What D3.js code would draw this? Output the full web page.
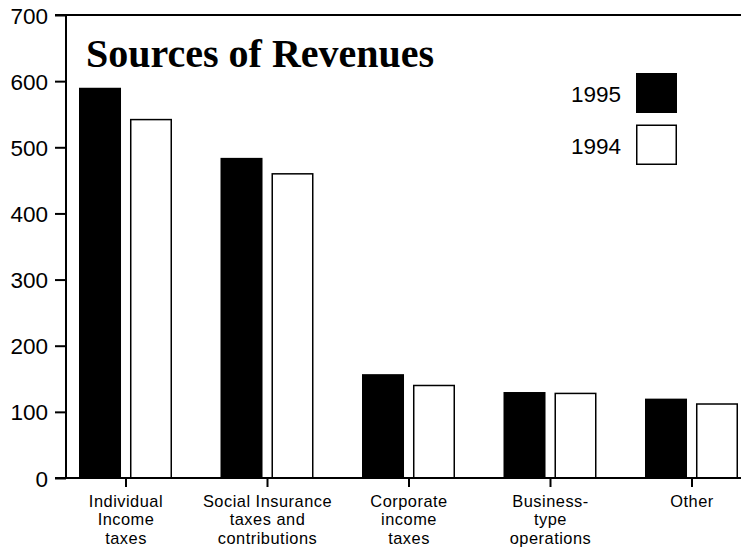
<!DOCTYPE html>
<html>
<head>
<meta charset="utf-8">
<script src="https://cdn.jsdelivr.net/npm/d3@7"></script>
<style>
  html, body { margin: 0; padding: 0; background: #fff; }
  svg { display: block; }
  .tick text { font-family: "Liberation Sans", Arial, sans-serif; }
</style>
</head>
<body>
<svg id="chart" width="741" height="548"></svg>
<script>
// Revenue sources (billions of dollars)
const categories = [
  ["Individual", "Income", "taxes"],
  ["Social Insurance", "taxes and", "contributions"],
  ["Corporate", "income", "taxes"],
  ["Business-", "type", "operations"],
  ["Other"]
];
const series = ["1995", "1994"];
const values1995 = [590, 484, 157, 130, 120];
const values1994 = [543, 461, 141, 129, 113];
const yTicks = [0, 100, 200, 300, 400, 500, 600, 700];
const title = "Sources of Revenues";

const svg = d3.select("#chart");
const W = 741;
const axisX = 66, plotTop = 15, plotBottom = 478;

const catIdx = d3.range(categories.length);
const x = d3.scaleBand().domain(catIdx).range([55.25, 762.75]).padding(0);
const xs = d3.scaleBand().domain(series).range([-47, 46]).paddingInner(0.176).paddingOuter(0);
const y = d3.scaleLinear().domain([0, 700]).range([plotBottom, plotTop]);

const rows = catIdx.map(i => ({ i, v: { "1995": values1995[i], "1994": values1994[i] } }));

// bars
const g = svg.append("g");
rows.forEach(r => {
  series.forEach(s => {
    const cx = x(r.i) + x.bandwidth() / 2;
    const isNew = s === "1995";
    g.append("rect")
      .attr("x", cx + xs(s) + (isNew ? 0 : 0.75))
      .attr("y", y(r.v[s]) + (isNew ? 0 : 0.75))
      .attr("width", xs.bandwidth() - (isNew ? 0 : 1.5))
      .attr("height", plotBottom - y(r.v[s]) - (isNew ? 0 : 0.75))
      .attr("fill", isNew ? "#000" : "#fff")
      .attr("stroke", isNew ? "none" : "#000")
      .attr("stroke-width", 1.5);
  });
});

// y axis
const yAxis = d3.axisLeft(y).tickValues(yTicks).tickSize(11).tickPadding(7);
const ya = svg.append("g").attr("transform", `translate(${axisX},0)`).call(yAxis);
ya.select(".domain").remove();
ya.selectAll(".tick line").attr("stroke", "#000").attr("stroke-width", 2);
ya.selectAll(".tick text")
  .attr("font-size", 22.5)
  .attr("fill", "#000")
  .attr("dy", "0.36em");

// frame lines: left axis, top rule, baseline
svg.append("line").attr("x1", axisX).attr("x2", axisX).attr("y1", plotTop).attr("y2", plotBottom)
  .attr("stroke", "#000").attr("stroke-width", 2);
svg.append("line").attr("x1", 55).attr("x2", W).attr("y1", plotTop).attr("y2", plotTop)
  .attr("stroke", "#000").attr("stroke-width", 2);
svg.append("line").attr("x1", 55).attr("x2", W).attr("y1", plotBottom).attr("y2", plotBottom)
  .attr("stroke", "#000").attr("stroke-width", 2);

// x axis ticks and labels
const xa = svg.append("g").attr("transform", `translate(0,${plotBottom})`);
catIdx.forEach(i => {
  const cx = x(i) + x.bandwidth() / 2;
  xa.append("line").attr("x1", cx).attr("x2", cx).attr("y1", 0).attr("y2", 9)
    .attr("stroke", "#000").attr("stroke-width", 2);
  const t = xa.append("text")
    .attr("text-anchor", "middle")
    .attr("font-family", "Liberation Sans, Arial, sans-serif")
    .attr("font-size", 16.4)
    .attr("letter-spacing", 0.5)
    .attr("fill", "#000");
  categories[i].forEach((line, k) => {
    t.append("tspan").attr("x", cx).attr("y", 28.5 + k * 18.5).text(line);
  });
});

// title
svg.append("text")
  .attr("x", 86).attr("y", 66.5)
  .attr("font-family", "Liberation Serif, Times New Roman, serif")
  .attr("font-weight", "bold")
  .attr("font-size", 40)
  .attr("fill", "#000")
  .text(title);

// legend
const legend = svg.append("g");
series.forEach((s, k) => {
  const yy = 73 + k * 51.5;
  legend.append("rect")
    .attr("x", s === "1995" ? 636 : 636.75)
    .attr("y", s === "1995" ? yy : yy + 0.75)
    .attr("width", s === "1995" ? 41 : 39.5)
    .attr("height", s === "1995" ? 40 : 39)
    .attr("fill", s === "1995" ? "#000" : "#fff")
    .attr("stroke", s === "1995" ? "none" : "#000")
    .attr("stroke-width", 1.5);
  legend.append("text")
    .attr("x", 621).attr("y", yy + 29)
    .attr("text-anchor", "end")
    .attr("font-family", "Liberation Sans, Arial, sans-serif")
    .attr("font-size", 22.5)
    .attr("fill", "#000")
    .text(s);
});
</script>
</body>
</html>
